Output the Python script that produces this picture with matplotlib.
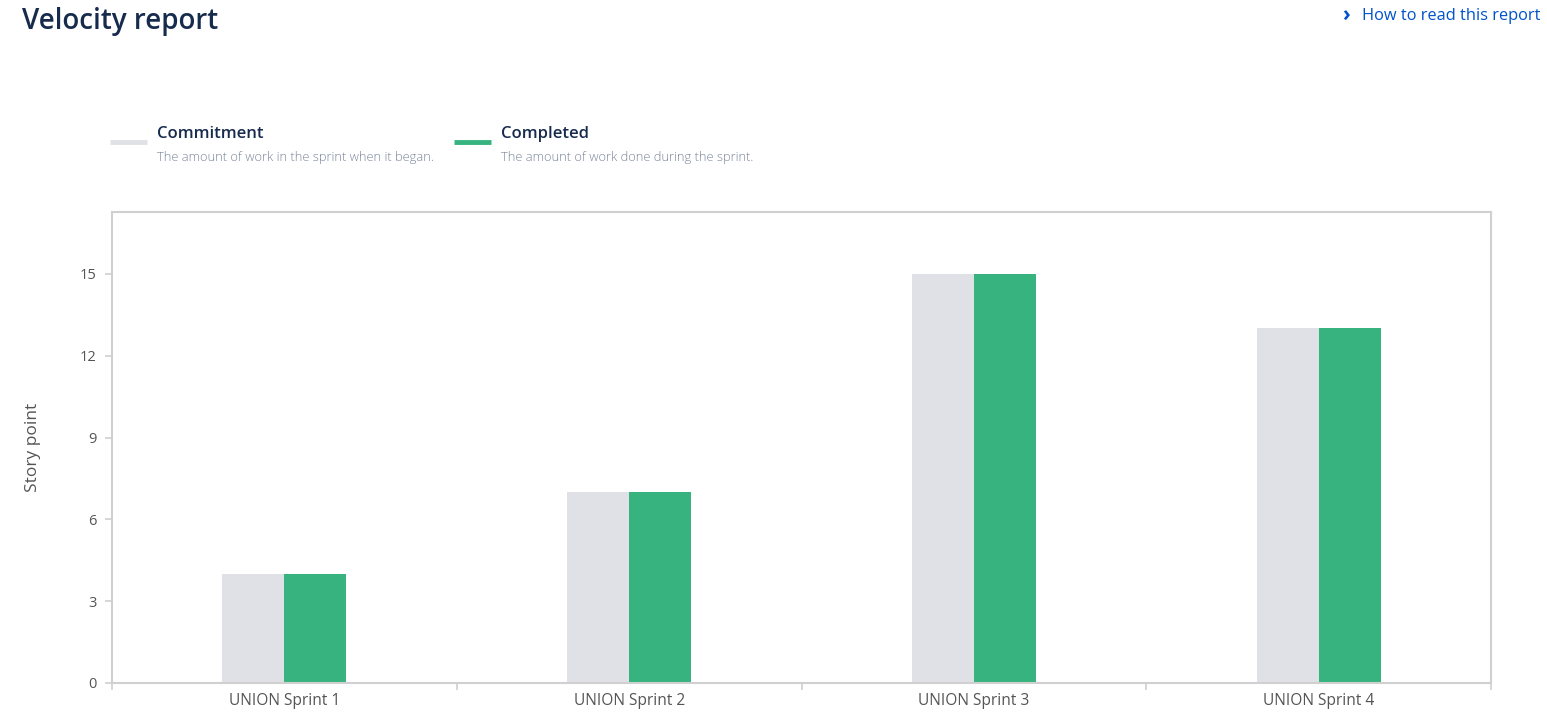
import numpy as np
import matplotlib.pyplot as plt
from matplotlib.lines import Line2D

sprints = ["UNION Sprint 1", "UNION Sprint 2", "UNION Sprint 3", "UNION Sprint 4"]
commitment = [4, 7, 15, 13]
completed = [4, 7, 15, 13]
yticks = [0, 3, 6, 9, 12, 15]

GRAY = "#DFE1E6"
GREEN = "#36B37E"
NAVY = "#172B4D"
AXIS = "#D0D0D0"

plt.rcParams["font.family"] = ["Open Sans", "DejaVu Sans"]

W, H = 1547, 713
fig = plt.figure(figsize=(W / 100, H / 100), dpi=100)
ax = fig.add_axes([112 / W, 1 - 683 / H, (1491 - 112) / W, (683 - 212) / H])

x = np.arange(len(sprints))
bw = 0.18
ax.bar(x - bw / 2, commitment, bw, color=GRAY, linewidth=0)
ax.bar(x + bw / 2, completed, bw, color=GREEN, linewidth=0)

ax.set_xlim(-0.5, len(sprints) - 0.5)
ax.set_ylim(0, 17.27)
ax.set_yticks(yticks)
ax.set_yticklabels([str(v) for v in yticks], color="#555555", fontsize=10.5)
ax.set_xticks(np.arange(-0.5, len(sprints), 1.0))
ax.set_xticklabels([])
ax.set_xticks(x, minor=True)
ax.set_xticklabels(sprints, minor=True, color="#555555", fontsize=11.2)
ax.tick_params(axis="x", which="minor", length=0, pad=7)
ax.tick_params(axis="x", which="major", length=5, color=AXIS, width=1.2)
ax.tick_params(axis="y", length=5, color=AXIS, width=1.2, pad=6)
for s in ax.spines.values():
    s.set_color(AXIS)
    s.set_linewidth(1.5)

ax.set_ylabel("Story point", fontsize=12.5, color="#555555")
ax.yaxis.set_label_coords((41 - 112) / (1491 - 112), 0.5)

# header
fig.text(22 / W, 1 - 21 / H, "Velocity report", fontsize=20, fontweight="semibold",
         color=NAVY, va="center", ha="left")
fig.text(1541 / W, 1 - 16 / H, "How to read this report", fontsize=11.8,
         color="#0052CC", va="center", ha="right")
fig.text(1342 / W, 1 - 15 / H, "\u203a", fontsize=15, fontweight="bold",
         color="#0052CC", va="center", ha="left")

# custom legend
items = [("Commitment", "The amount of work in the sprint when it began.", GRAY, 110),
         ("Completed", "The amount of work done during the sprint.", GREEN, 454)]
for name, desc, col, x0 in items:
    fig.add_artist(Line2D([x0 / W, (x0 + 37) / W], [1 - 142 / H, 1 - 142 / H],
                          color=col, linewidth=3.5, solid_capstyle="butt"))
    fig.text((x0 + 47) / W, 1 - 134 / H, name, fontsize=12, fontweight="semibold",
             color=NAVY, va="center", ha="left")
    fig.text((x0 + 47) / W, 1 - 157 / H, desc, fontsize=9.3, fontweight="light",
             color="#7A869A", va="center", ha="left")

fig.savefig("out.png", dpi=100)
